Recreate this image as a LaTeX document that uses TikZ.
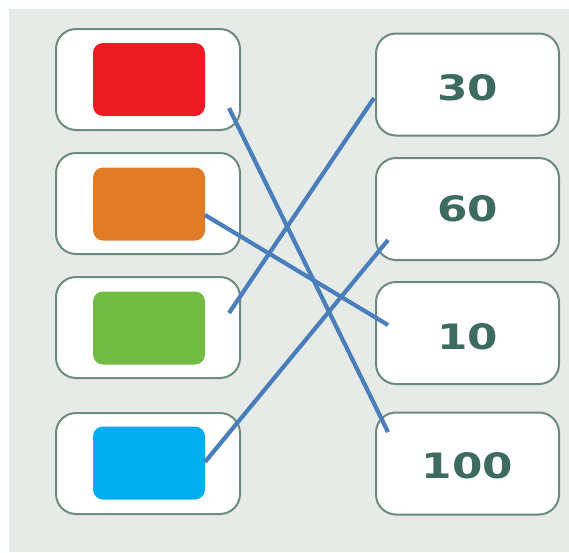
\documentclass[tikz,border=0pt]{standalone}
\usepackage{fontspec}
\setmainfont{DejaVu Sans}
\definecolor{bg}{HTML}{E6EBE8}
\definecolor{frame}{HTML}{6E8A80}
\definecolor{numc}{HTML}{3E6B5F}
\definecolor{link}{HTML}{4A7EBB}
\definecolor{cred}{HTML}{ED1C24}
\definecolor{corange}{HTML}{E07B28}
\definecolor{cgreen}{HTML}{72BB45}
\definecolor{cblue}{HTML}{00AEEF}
\newcommand{\numtxt}[2]{\raisebox{#1}[\height][\depth]{\scalebox{1.25}[1]{#2}}}
\begin{document}
\begin{tikzpicture}[x=1pt,y=-1pt,
  outerbox/.style={draw=frame,line width=2pt,fill=white,rounded corners=20pt,minimum width=184pt,minimum height=101pt,inner sep=0pt},
  swatch/.style={rounded corners=10pt,minimum width=112pt,minimum height=73pt,inner sep=0pt},
  numbox/.style={draw=frame,line width=2pt,fill=white,rounded corners=20pt,minimum width=183pt,minimum height=102pt,inner sep=0pt,text=numc,font=\bfseries\fontsize{35}{35}\selectfont},
  linkline/.style={draw=link,line width=4.2pt}]
\useasboundingbox (0,0) rectangle (569,552);
\fill[white] (0,0) rectangle (569,552);
\fill[bg] (9,9) rectangle (569,552);
% left boxes
\node[outerbox] (l1) at (148,79.5) {};
\node[outerbox] (l2) at (148,203.5) {};
\node[outerbox] (l3) at (148,327.5) {};
\node[outerbox] (l4) at (148,463.5) {};
\node[swatch,fill=cred] (s1) at (149,79.5) {};
\node[swatch,fill=corange] (s2) at (149,204) {};
\node[swatch,fill=cgreen] (s3) at (149,328) {};
\node[swatch,fill=cblue] (s4) at (149,463) {};
% right boxes
\node[numbox] (r1) at (467.5,84.5) {\numtxt{-3pt}{30}};
\node[numbox] (r2) at (467.5,209) {\numtxt{0pt}{60}};
\node[numbox] (r3) at (467.5,333) {\numtxt{-3.5pt}{10}};
\node[numbox] (r4) at (467.5,463.5) {\numtxt{-2pt}{100}};
% line ends
\coordinate (a1) at (229,108);
\coordinate (b1) at (388,432);
\coordinate (a2) at (205,215);
\coordinate (b2) at (388,325);
\coordinate (a3) at (229,313);
\coordinate (b3) at (374,98);
\coordinate (a4) at (205,462);
\coordinate (b4) at (388,240);
\draw[linkline] (a1) -- (b1);
\draw[linkline] (a2) -- (b2);
\draw[linkline] (a3) -- (b3);
\draw[linkline] (a4) -- (b4);
\end{tikzpicture}
\end{document}
